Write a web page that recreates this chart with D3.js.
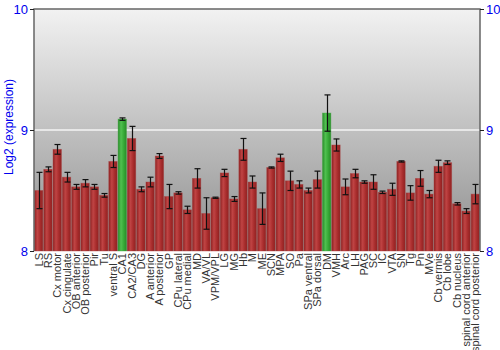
<!DOCTYPE html>
<html>
<head>
<meta charset="utf-8">
<script src="https://d3js.org/d3.v7.min.js"></script>
<style>
  body { margin: 0; background: #fff; }
  text { font-family: "Liberation Sans", Arial, sans-serif; }
</style>
</head>
<body>
<svg id="chart" width="500" height="350"></svg>
<script>
/* DATA */
var regions = ['LS','RS','Cx motor','Cx cingulate','OB anterior','OB posterior','Pir','Tu','ventral S','CA1',
  'CA2/CA3','DG','A anterior','A posterior','GP','CPu lateral','CPu medial','MD','VA/VL','VPM/VPL',
  'LG','MG','Hb','M','ME','SCN','MPA','SO','Pa','SPa ventral','SPa dorsal','DM',
  'VMH','Arc','LH','PAG','SC','IC','VTA','SN','Tg','Pn','MVe','Cb vermis','Cb lobe','Cb nucleus',
  'spinal cord anterior','spinal cord posterior'];
var values = [8.50,8.675,8.84,8.61,8.53,8.56,8.53,8.46,8.74,9.09,
  8.93,8.51,8.57,8.785,8.45,8.48,8.34,8.60,8.31,8.44,
  8.645,8.43,8.84,8.57,8.35,8.69,8.77,8.58,8.55,8.50,8.59,9.14,
  8.876,8.53,8.64,8.57,8.57,8.485,8.51,8.74,8.48,8.60,8.47,8.70,8.73,8.39,
  8.33,8.47];
var errors = [0.15,0.02,0.04,0.04,0.02,0.03,0.02,0.015,0.05,0.01,
  0.1,0.02,0.04,0.02,0.1,0.01,0.03,0.08,0.13,0.005,
  0.03,0.02,0.09,0.05,0.13,0.005,0.03,0.08,0.03,0.02,0.07,0.15,
  0.05,0.065,0.035,0.01,0.06,0.01,0.05,0.005,0.06,0.065,0.03,0.05,0.015,0.01,
  0.02,0.08];
var highlighted = ['CA1','DM'];
var yTicks = [8, 9, 10];

var data = regions.map(function(r, i){
  return { name: r, value: values[i], err: errors[i], hi: highlighted.indexOf(r) !== -1 };
});

/* LAYOUT */
var plotLeft = 34, plotRight = 480, plotTop = 9, plotBottom = 251;
var svg = d3.select('#chart');

var x = d3.scaleBand().domain(regions).range([plotLeft, plotRight]).paddingInner(0.1).paddingOuter(0.05);
var y = d3.scaleLinear().domain([8, 10]).range([plotBottom, plotTop]);

var defs = svg.append('defs');
var bg = defs.append('linearGradient').attr('id','bg').attr('x1',0).attr('y1',0).attr('x2',0).attr('y2',1);
bg.append('stop').attr('offset','0%').attr('stop-color','#f2f2f2');
bg.append('stop').attr('offset','100%').attr('stop-color','#8e8e8e');

function barGrad(id, dark, mid, light){
  var g = defs.append('linearGradient').attr('id', id).attr('x1',0).attr('y1',0).attr('x2',1).attr('y2',0);
  g.append('stop').attr('offset','0%').attr('stop-color', dark);
  g.append('stop').attr('offset','35%').attr('stop-color', light);
  g.append('stop').attr('offset','70%').attr('stop-color', mid);
  g.append('stop').attr('offset','100%').attr('stop-color', dark);
}
barGrad('red', '#8e2222', '#a82c2c', '#c04444');
barGrad('green', '#2a8a2a', '#35a835', '#50c050');

/* BACKGROUND */
svg.append('rect').attr('x', plotLeft).attr('y', plotTop)
  .attr('width', plotRight - plotLeft).attr('height', plotBottom - plotTop)
  .attr('fill', 'url(#bg)');

/* GRID LINE AT 9 */
svg.append('line').attr('x1', plotLeft).attr('x2', plotRight)
  .attr('y1', y(9)).attr('y2', y(9))
  .attr('stroke', '#f4f4f4').attr('stroke-width', 1.5);

/* BARS */
svg.append('g').selectAll('rect').data(data).enter().append('rect')
  .attr('x', function(d){ return x(d.name); })
  .attr('width', x.bandwidth())
  .attr('y', function(d){ return y(d.value); })
  .attr('height', function(d){ return plotBottom - y(d.value); })
  .attr('fill', function(d){ return d.hi ? 'url(#green)' : 'url(#red)'; })
  .attr('stroke', function(d){ return d.hi ? 'rgba(60,170,60,0.5)' : 'rgba(170,60,60,0.5)'; })
  .attr('stroke-width', 0.8);

/* ERROR BARS */
var eb = svg.append('g').attr('stroke', '#111').attr('stroke-width', 1.2);
data.forEach(function(d){
  var cx = Math.round(x(d.name) + x.bandwidth() / 2) + 0.5;
  var y1 = y(d.value + d.err), y2 = y(d.value - d.err);
  eb.append('line').attr('x1', cx).attr('x2', cx).attr('y1', y1).attr('y2', y2);
  eb.append('line').attr('x1', cx - 3).attr('x2', cx + 3).attr('y1', y1).attr('y2', y1);
  eb.append('line').attr('x1', cx - 3).attr('x2', cx + 3).attr('y1', y2).attr('y2', y2);
});

/* FRAME */
svg.append('path')
  .attr('d', 'M' + plotLeft + ',' + plotBottom + 'V' + plotTop + 'H' + plotRight + 'V' + plotBottom)
  .attr('fill', 'none').attr('stroke', '#666').attr('stroke-width', 1.5);

/* AXES */
var leftAxis = svg.append('g').attr('transform', 'translate(' + plotLeft + ',0)')
  .call(d3.axisLeft(y).tickValues(yTicks).tickSize(4).tickPadding(2).tickFormat(d3.format('d')));
var rightAxis = svg.append('g').attr('transform', 'translate(' + plotRight + ',0)')
  .call(d3.axisRight(y).tickValues(yTicks).tickSize(4).tickPadding(2).tickFormat(d3.format('d')));
[leftAxis, rightAxis].forEach(function(a){
  a.select('.domain').remove();
  a.selectAll('line').attr('stroke', '#222');
  a.selectAll('text').attr('fill', '#0000ee').style('font-size', '13px')
    .style('font-family', '"Liberation Sans", Arial, sans-serif');
});

/* X LABELS */
svg.append('g').selectAll('text').data(data).enter().append('text')
  .attr('transform', function(d){
    return 'translate(' + (x(d.name) + x.bandwidth() / 2 + 4) + ',' + (plotBottom + 2) + ') rotate(-90)';
  })
  .attr('text-anchor', 'end')
  .attr('fill', '#333')
  .style('font-size', '11px')
  .text(function(d){ return d.name; });

/* Y TITLE */
svg.append('text')
  .attr('transform', 'translate(13,127) rotate(-90)')
  .attr('text-anchor', 'middle')
  .attr('fill', '#0000ee')
  .style('font-size', '12px')
  .text('Log2 (expression)');
</script>
</body>
</html>
